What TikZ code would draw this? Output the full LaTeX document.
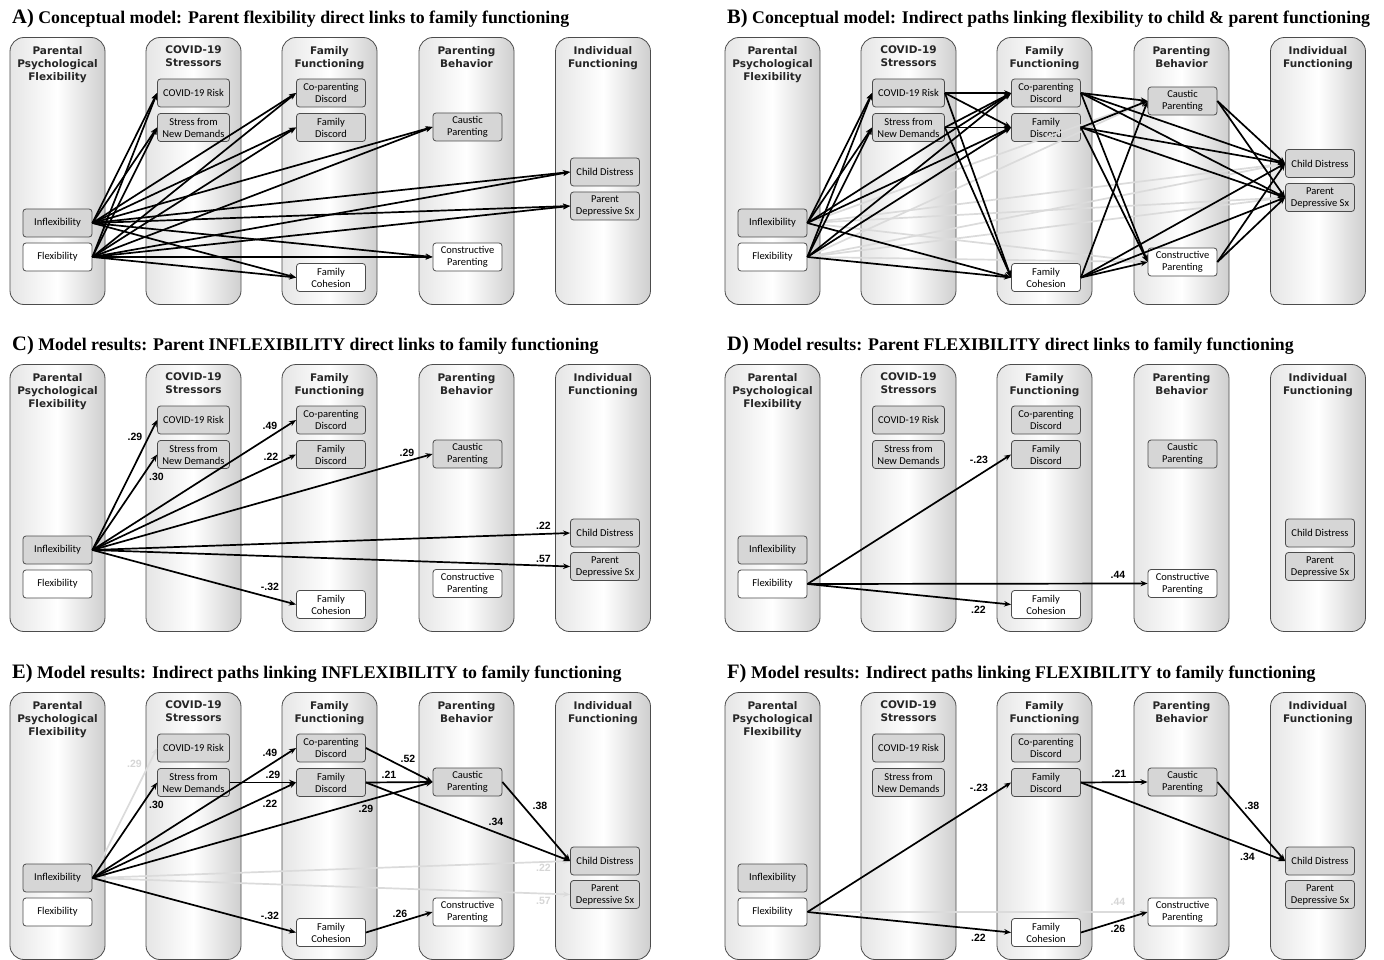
\documentclass[tikz,border=0pt]{standalone}
\usepackage{fontspec}
\setmainfont{Liberation Serif}
\setsansfont{Liberation Sans}
\newfontfamily\hdfont{DejaVu Sans}
\newfontfamily\boxfont{Carlito}
\usetikzlibrary{arrows.meta, positioning, calc}

\tikzset{
  column/.style={draw=black!70, line width=0.8pt, rounded corners=14pt,
    left color=black!10, right color=black!19, middle color=white},
  head/.style={font=\hdfont\bfseries\fontsize{10.5}{13}\selectfont, align=center,
    anchor=north, text=black!85, inner sep=0pt},
  gbox/.style={draw=black!70, line width=0.8pt, fill=black!16, rounded corners=3pt,
    minimum width=69pt, minimum height=28pt, inner sep=0pt, align=center,
    font=\boxfont\fontsize{10.5}{12}\selectfont},
  wbox/.style={gbox, fill=white},
  ttl/.style={anchor=west, inner sep=0pt, font=\bfseries\fontsize{17.8}{20}\selectfont},
  arr/.style={-{Stealth[length=7pt,width=5.5pt]}, line width=1.7pt},
  garr/.style={arr, draw=black!14},
  lbl/.style={font=\sffamily\bfseries\fontsize{10.5}{12}\selectfont, inner sep=0pt},
  glbl/.style={lbl, text=black!16},
}

% one panel: letter, title, y of caustic, constructive, child, parent
\newcommand\panel[6]{%
  \node[ttl] (title) at (12,19) {{\fontsize{20.5}{22}\selectfont #1)} #2};
  \foreach \cx/\hd [count=\i] in {57.5/{Parental\\Psychological\\Flexibility},
      193.5/{COVID-19\\Stressors}, 329.5/{Family\\Functioning},
      466.5/{Parenting\\Behavior}, 603/{Individual\\Functioning}}{
    \draw[column] (\cx-47.5,37.5) rectangle (\cx+47.5,304.5);
    \node[head] (hd\i) at (\cx,46) {\hd};
  }
  \node[gbox] (infl) at (57.5,223) {Inflexibility};
  \node[wbox] (flex) at (57.5,257) {Flexibility};
  \node[gbox, minimum width=72pt] (risk) at (193.5,93) {COVID-19 Risk};
  \node[gbox, minimum width=72pt] (stress) at (193.5,127.5) {Stress from\\New Demands};
  \node[gbox] (copar) at (331,93) {Co-parenting\\Discord};
  \node[gbox] (fdisc) at (331,127.5) {Family\\Discord};
  \node[wbox] (fcoh) at (331,277.5) {Family\\Cohesion};
  \node[gbox] (caus) at (467.5,#3) {Caustic\\Parenting};
  \node[wbox] (cons) at (467.5,#4) {Constructive\\Parenting};
  \node[gbox] (child) at (605,#5) {Child Distress};
  \node[gbox] (pdep) at (605,#6) {Parent\\Depressive Sx};
}

\begin{document}
\begin{tikzpicture}[x=1pt, y=-1pt]
  \fill[white] (0,0) rectangle (1384,960);
  \useasboundingbox (0,0) rectangle (1384,960);

  % A
  \begin{scope}
    \panel{A}{Conceptual model: Parent flexibility direct links to family functioning}{127}{257}{172}{206}
    \foreach \s in {infl,flex}
      \foreach \t in {risk,stress,copar,fdisc,fcoh,caus,cons,child,pdep}
        \draw[arr] (\s.east) -- (\t.west);
  \end{scope}

  % B
  \begin{scope}[shift={(715,0)}]
    \panel{B}{Conceptual model: Indirect paths linking flexibility to child \& parent functioning}{101}{262}{163.5}{197.5}
    \foreach \s in {infl,flex}
      \foreach \t in {caus,cons,child,pdep}
        \draw[garr] (\s.east) -- (\t.west);
    \foreach \s in {infl,flex}
      \foreach \t in {risk,stress,copar,fdisc,fcoh}
        \draw[arr] (\s.east) -- (\t.west);
    \foreach \s in {risk,stress}
      \foreach \t in {copar,fdisc,fcoh}
        \draw[arr] (\s.east) -- (\t.west);
    \foreach \s in {copar,fdisc,fcoh}
      \foreach \t in {caus,cons,child,pdep}
        \draw[arr] (\s.east) -- (\t.west);
    \foreach \s in {caus,cons}
      \foreach \t in {child,pdep}
        \draw[arr] (\s.east) -- (\t.west);
  \end{scope}

  % C
  \begin{scope}[shift={(0,327)}]
    \panel{C}{Model results: Parent INFLEXIBILITY direct links to family functioning}{127}{256.5}{206}{239.5}
    \foreach \t/\v/\lx/\ly in {risk/.29/135/110, stress/.30/156.5/150, copar/.49/270/99,
        fdisc/.22/271/130, caus/.29/407/126, child/.22/543.5/199, pdep/.57/543.5/232,
        fcoh/-.32/270/260}{
      \draw[arr] (infl.east) -- (\t.west);
      \node[lbl] (v-\t) at (\lx,\ly) {\v};
    }
  \end{scope}

  % D
  \begin{scope}[shift={(715,327)}]
    \panel{D}{Model results: Parent FLEXIBILITY direct links to family functioning}{127}{256.5}{206}{239.5}
    \foreach \t/\v/\lx/\ly in {fdisc/-.23/264/133, cons/.44/403/248, fcoh/.22/263.5/283}{
      \draw[arr] (flex.east) -- (\t.west);
      \node[lbl] (v-\t) at (\lx,\ly) {\v};
    }
  \end{scope}

  % E
  \begin{scope}[shift={(0,655)}]
    \panel{E}{Model results: Indirect paths linking INFLEXIBILITY to family functioning}{127}{257}{206}{239.5}
    \foreach \t/\v/\lx/\ly in {risk/.29/134.5/109, child/.22/543.5/213, pdep/.57/543.5/246}{
      \draw[garr] (infl.east) -- (\t.west);
      \node[glbl] (g-\t) at (\lx,\ly) {\v};
    }
    \foreach \s/\t/\v/\lx/\ly in {infl/stress/.30/156.5/150, infl/copar/.49/270/98,
        infl/fdisc/.22/270/149, infl/caus/.29/366/154, infl/fcoh/-.32/270/261,
        stress/fdisc/.29/273/120, copar/caus/.52/408/104, fdisc/caus/.21/389/120,
        fdisc/child/.34/496/167, caus/child/.38/540/151, fcoh/cons/.26/400/259}{
      \draw[arr] (\s.east) -- (\t.west);
      \node[lbl] (v-\s-\t) at (\lx,\ly) {\v};
    }
  \end{scope}

  % F
  \begin{scope}[shift={(715,655)}]
    \panel{F}{Model results: Indirect paths linking FLEXIBILITY to family functioning}{127}{257}{206}{239.5}
    \draw[garr] (flex.east) -- (cons.west);
    \node[glbl] (g-cons) at (403,247) {.44};
    \foreach \s/\t/\v/\lx/\ly in {flex/fdisc/-.23/264/133, flex/fcoh/.22/263.5/283,
        fdisc/caus/.21/404/119, fdisc/child/.34/532.5/202, caus/child/.38/537/151,
        fcoh/cons/.26/403/274}{
      \draw[arr] (\s.east) -- (\t.west);
      \node[lbl] (v-\s-\t) at (\lx,\ly) {\v};
    }
  \end{scope}
\end{tikzpicture}
\end{document}
